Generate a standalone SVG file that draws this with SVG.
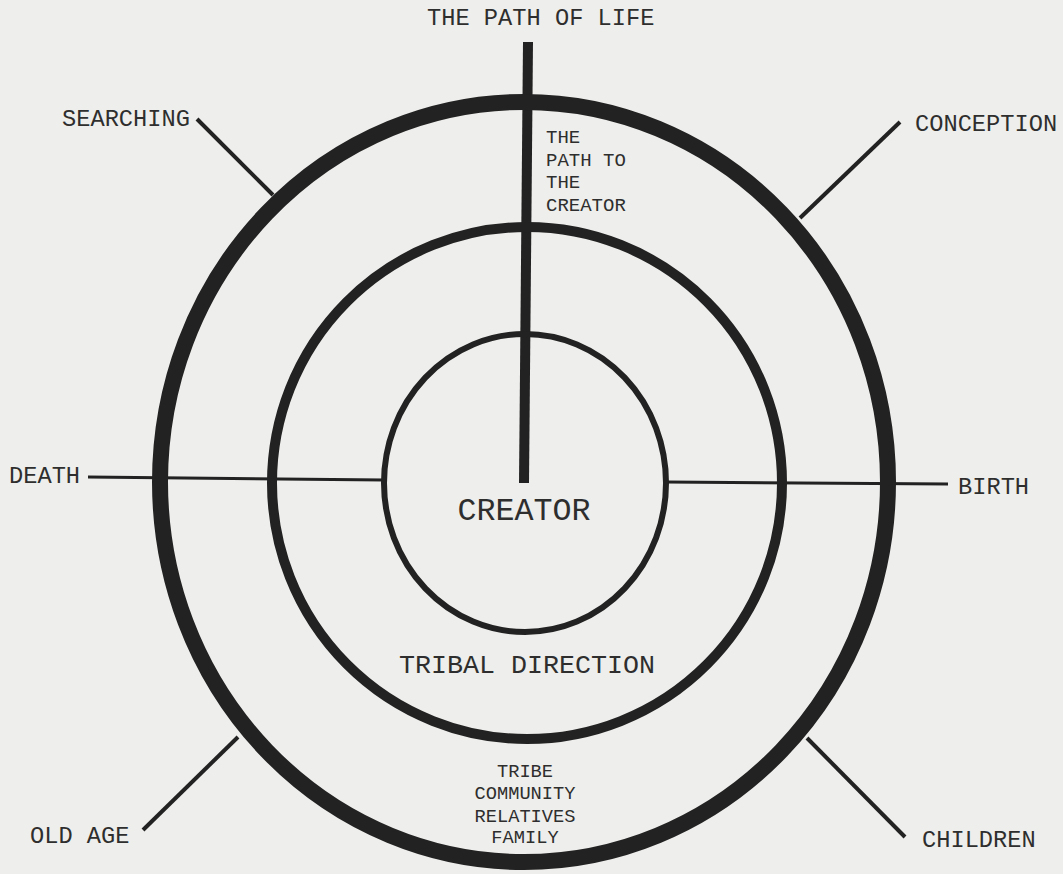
<svg xmlns="http://www.w3.org/2000/svg" width="1063" height="874" viewBox="0 0 1063 874">
<style>
.ring{fill:none;stroke:#222}
.spoke{stroke:#222;stroke-linecap:butt}
text{font-family:"Liberation Mono","Courier New",monospace;fill:#2e2e2e}
.lbl{font-size:23.7px}
.sm{font-size:19px}
.mid{text-anchor:middle}
</style>
<rect width="1063" height="874" fill="#eeeeec"/>
<g id="connectors">
<line class="spoke" x1="88" y1="477" x2="384" y2="480" stroke-width="3"/>
<line class="spoke" x1="666" y1="482" x2="948" y2="484" stroke-width="3"/>
<line class="spoke" x1="197" y1="119" x2="273" y2="195" stroke-width="4"/>
<line class="spoke" x1="900" y1="122" x2="800" y2="218" stroke-width="4"/>
<line class="spoke" x1="143" y1="830" x2="238" y2="737" stroke-width="4"/>
<line class="spoke" x1="807" y1="738" x2="905" y2="837" stroke-width="4"/>
<line class="spoke" x1="528" y1="42" x2="524" y2="483" stroke-width="10"/>
</g>
<g id="outer-ring"><ellipse class="ring" cx="524" cy="482" rx="364" ry="380" stroke-width="16"/></g>
<g id="middle-ring"><ellipse class="ring" cx="527" cy="483" rx="255" ry="256" stroke-width="10"/></g>
<g id="inner-ring"><ellipse class="ring" cx="525" cy="483" rx="141" ry="149" stroke-width="6"/></g>
<g id="path-of-life"><text class="lbl" x="427" y="25">THE PATH OF LIFE</text></g>
<g id="path-to-creator"><text class="sm" x="546" y="143">THE</text><text class="sm" x="546" y="166">PATH TO</text><text class="sm" x="546" y="188">THE</text><text class="sm" x="546" y="211">CREATOR</text></g>
<g id="searching"><text class="lbl" x="62" y="126">SEARCHING</text></g>
<g id="conception"><text class="lbl" x="915" y="131">CONCEPTION</text></g>
<g id="death"><text class="lbl" x="9" y="483">DEATH</text></g>
<g id="birth"><text class="lbl" x="958" y="494">BIRTH</text></g>
<g id="old-age"><text class="lbl" x="30" y="843">OLD AGE</text></g>
<g id="children"><text class="lbl" x="922" y="847">CHILDREN</text></g>
<g id="creator"><text class="mid" x="524" y="520" style="font-size:31.7px">CREATOR</text></g>
<g id="tribal-direction"><text class="mid" x="527" y="673" style="font-size:26.7px">TRIBAL DIRECTION</text></g>
<g id="tribe"><text class="sm mid" x="525" y="777" style="font-size:18.7px">TRIBE</text><text class="sm mid" x="525" y="799" style="font-size:18.7px">COMMUNITY</text><text class="sm mid" x="525" y="822" style="font-size:18.7px">RELATIVES</text><text class="sm mid" x="525" y="843" style="font-size:18.7px">FAMILY</text></g>
</svg>
